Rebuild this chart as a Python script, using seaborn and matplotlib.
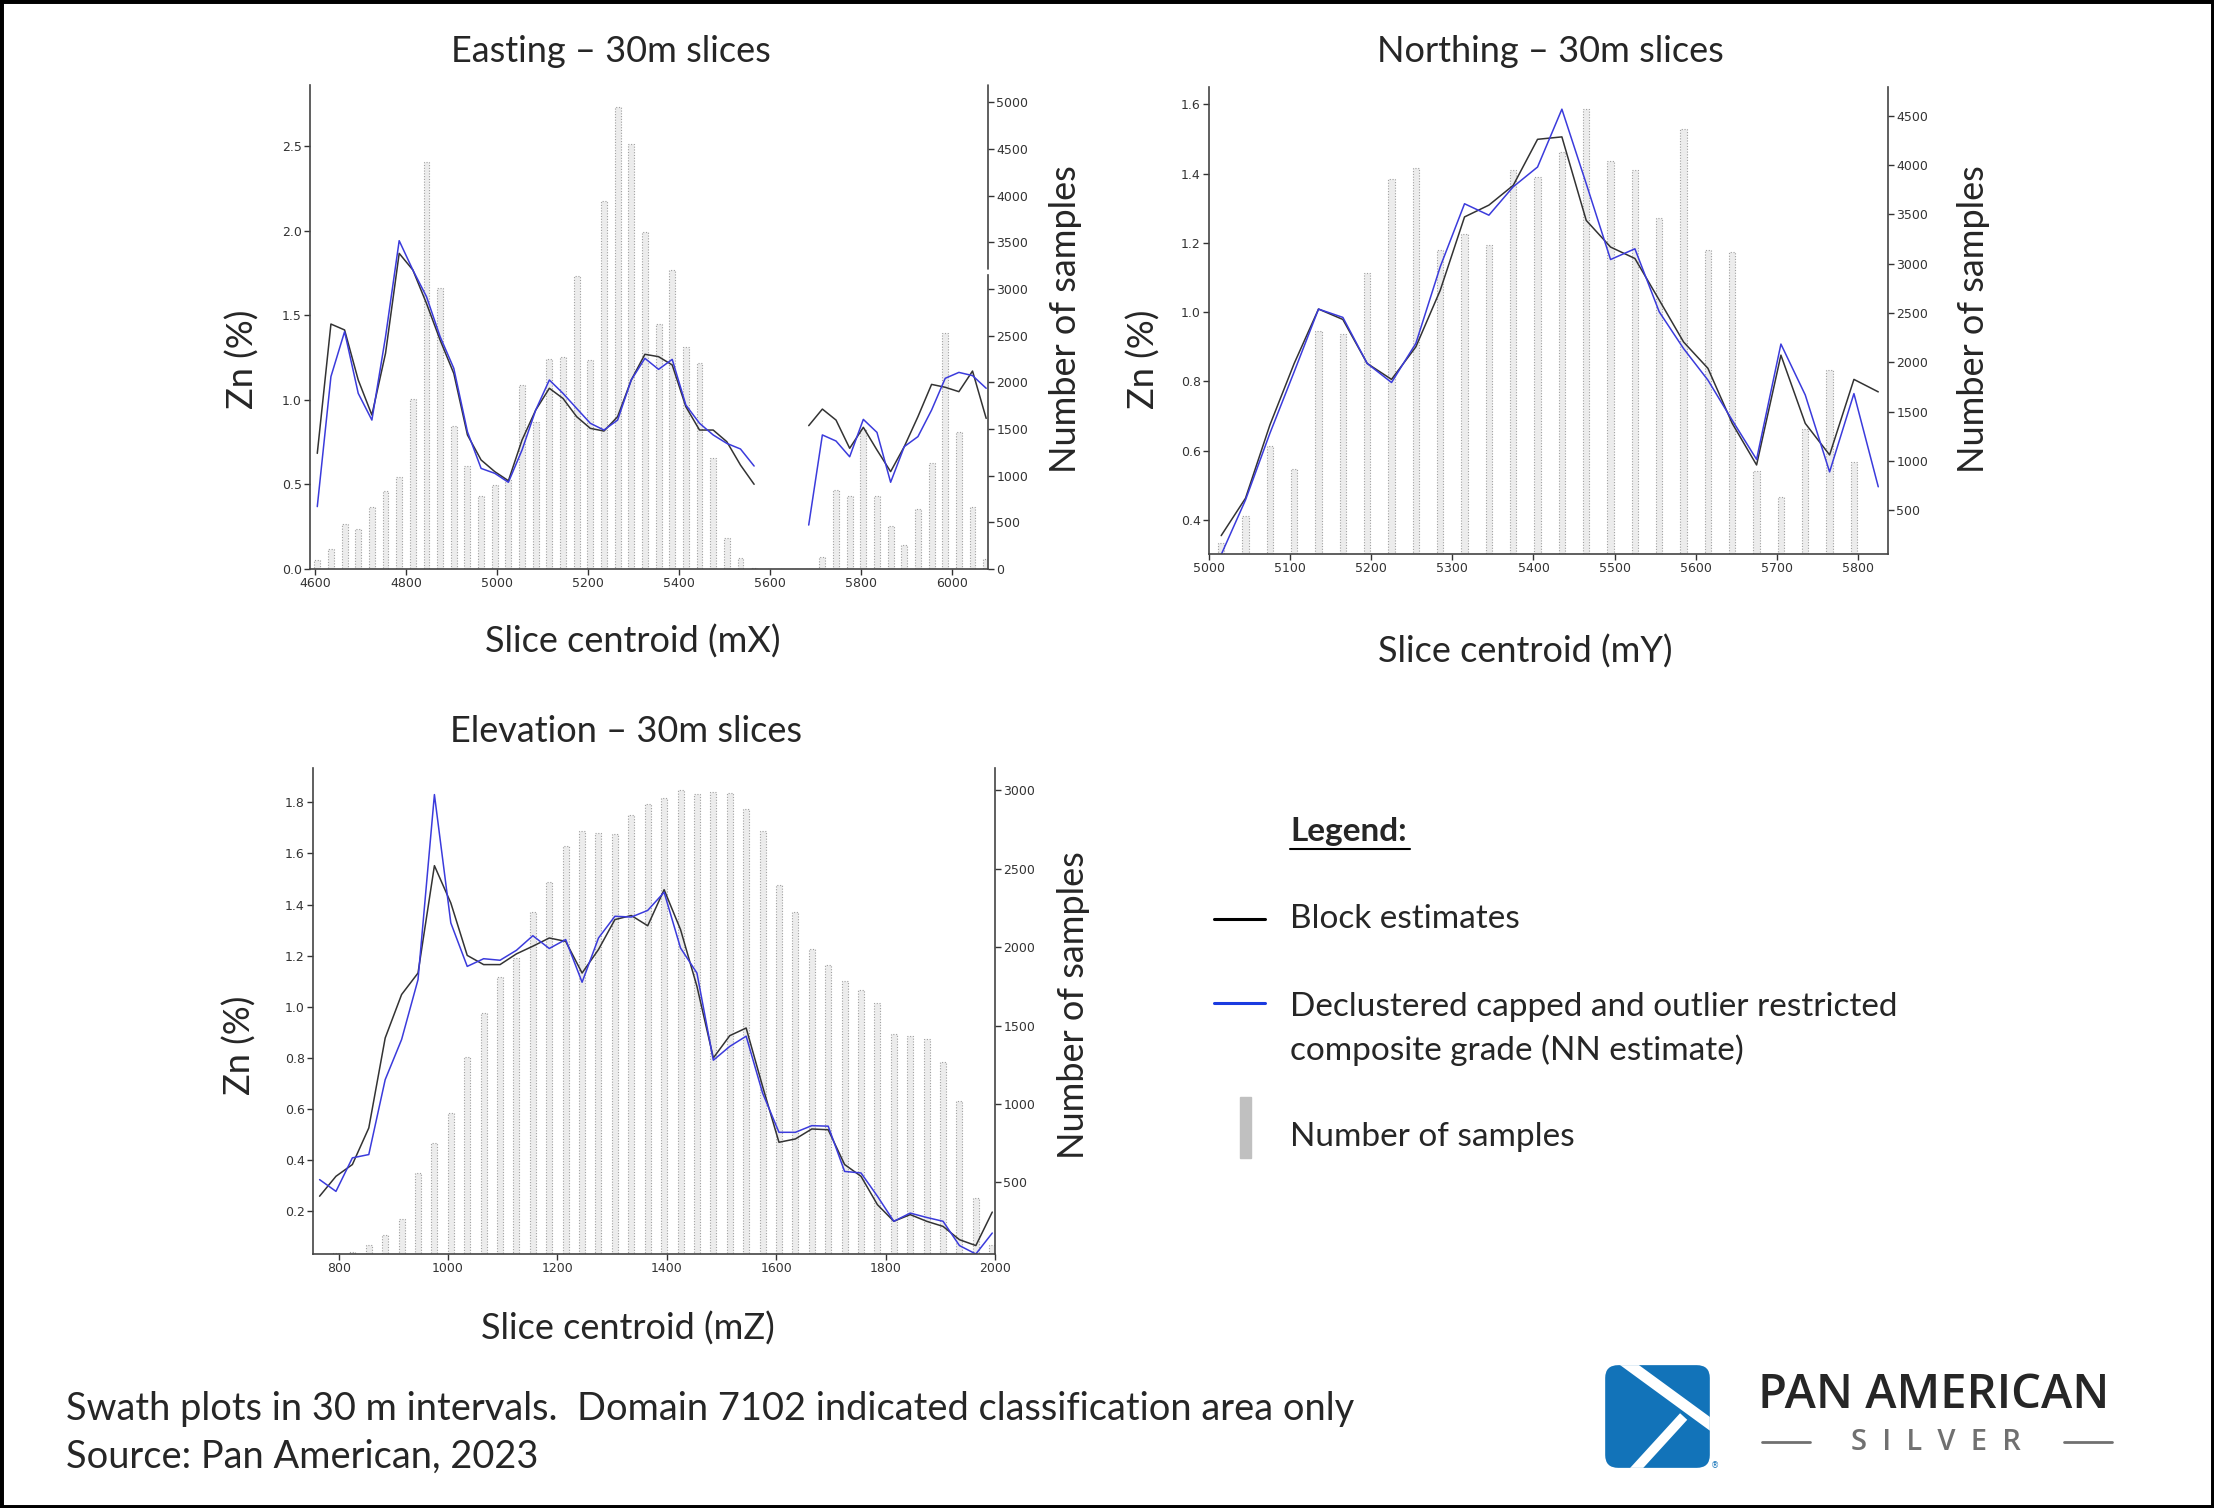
"""
Swath plots (Zn %) for Domain 7102 - Easting, Northing and Elevation, 30 m slices.
Grade lines on the left axis, sample counts as bars on the right axis.
"""

import numpy as np
import pandas as pd
import matplotlib
matplotlib.use("Agg")
import matplotlib.pyplot as plt
from matplotlib.patches import Rectangle, FancyBboxPatch
from matplotlib.lines import Line2D
import seaborn as sns

nan = np.nan

# ---- Easting slices ----
east_x = np.arange(4605, 6076, 30)
east_count = [100, 214, 482, 429, 661, 839, 982, 1821, 4361, 3010,
              1532, 1103, 782, 903, 950, 1971, 1578, 2253, 2275, 3143,
              2236, 3946, 4950, 4553, 3614, 2621, 3204, 2382, 2207, 1193,
              329, 114, 10, 0, 0, 0, 0, 125, 846, 782,
              1500, 782, 461, 257, 643, 1139, 2525, 1464, 668, 104]
east_block = [0.684, 1.449, 1.414, 1.118, 0.911, 1.276, 1.867, 1.769, 1.571, 1.354,
              1.157, 0.793, 0.645, 0.576, 0.522, 0.763, 0.940, 1.069, 1.009, 0.901,
              0.832, 0.816, 0.901, 1.118, 1.270, 1.256, 1.207, 0.960, 0.822, 0.822,
              0.753, 0.615, 0.501, nan, nan, nan, 0.848, 0.946, 0.881, 0.714,
              0.838, 0.704, 0.576, 0.724, 0.901, 1.092, 1.075, 1.049, 1.171, 0.891]
east_nn = [0.369, 1.138, 1.404, 1.039, 0.881, 1.374, 1.942, 1.769, 1.611, 1.374,
           1.187, 0.812, 0.595, 0.566, 0.513, 0.704, 0.940, 1.118, 1.039, 0.950,
           0.862, 0.822, 0.881, 1.118, 1.246, 1.181, 1.240, 0.970, 0.862, 0.793,
           0.743, 0.710, 0.609, nan, nan, nan, 0.260, 0.793, 0.757, 0.664,
           0.885, 0.808, 0.513, 0.724, 0.783, 0.940, 1.128, 1.163, 1.144, 1.069]

# ---- Northing slices ----
north_x = np.arange(5015, 5826, 30)
north_count = [162, 443, 1153, 916, 2319, 2292, 2911, 3858, 3973, 3137,
               3300, 3188, 3949, 3881, 4135, 4574, 4040, 3956, 3465, 4371,
               3137, 3120, 900, 635, 1322, 1920, 990, 0]
north_block = [0.355, 0.463, 0.674, 0.852, 1.009, 0.979, 0.852, 0.806, 0.900, 1.063,
               1.275, 1.309, 1.366, 1.499, 1.506, 1.265, 1.188, 1.155, 1.035, 0.914,
               0.838, 0.679, 0.559, 0.876, 0.679, 0.588, 0.806, 0.770]
north_nn = [0.300, 0.458, 0.650, 0.828, 1.009, 0.985, 0.852, 0.797, 0.910, 1.131,
            1.313, 1.280, 1.362, 1.419, 1.586, 1.371, 1.152, 1.183, 1.001, 0.895,
            0.804, 0.688, 0.575, 0.908, 0.761, 0.539, 0.765, 0.496]

# ---- Elevation slices ----
elev_x = np.arange(765, 1996, 30)
elev_count = [0, 50, 56, 98, 162, 268, 560, 751, 942, 1299,
              1580, 1810, 1931, 2222, 2413, 2647, 2738, 2728, 2719, 2841,
              2913, 2951, 3000, 2974, 2989, 2983, 2883, 2743, 2398, 2222,
              1990, 1888, 1786, 1729, 1642, 1448, 1435, 1414, 1270, 1017,
              400, 102]
elev_block = [0.259, 0.337, 0.383, 0.526, 0.878, 1.048, 1.132, 1.552, 1.406, 1.201,
              1.165, 1.165, 1.207, 1.237, 1.269, 1.256, 1.132, 1.224, 1.341, 1.357,
              1.317, 1.458, 1.302, 1.080, 0.800, 0.887, 0.917, 0.689, 0.470, 0.483,
              0.522, 0.519, 0.383, 0.337, 0.226, 0.161, 0.187, 0.161, 0.141, 0.089,
              0.066, 0.197]
elev_nn = [0.324, 0.278, 0.409, 0.422, 0.715, 0.872, 1.106, 1.830, 1.328, 1.158,
           1.188, 1.182, 1.221, 1.278, 1.228, 1.263, 1.096, 1.269, 1.354, 1.351,
           1.377, 1.448, 1.230, 1.132, 0.791, 0.845, 0.885, 0.663, 0.509, 0.509,
           0.535, 0.533, 0.356, 0.350, 0.259, 0.161, 0.193, 0.176, 0.161, 0.066,
           0.033, 0.115]

W, H = 2214, 1508
TXT = "Lato"
BLOCK_C = "#333333"
NN_C = "#3b3bdc"
SPINE_C = "#444444"


def box(l, t, r, b):
    """Pixel box (left, top, right, bottom) -> figure fraction rect."""
    return [l / W, 1 - b / H, (r - l) / W, (b - t) / H]


def ftext(px, py, s, **kw):
    kw.setdefault("family", TXT)
    kw.setdefault("fontsize", 26)
    kw.setdefault("ha", "center")
    kw.setdefault("va", "center")
    fig.text(px / W, 1 - py / H, s, **kw)


def swath(rect, x, block, nn, count, bar_w, xlim, xticks, ylim, yticks, ylim2, yticks2):
    ax = fig.add_axes(rect)
    ax2 = ax.twinx()
    ax2.bar(x, count, width=bar_w, color="#ececec", edgecolor="#a0a0a0",
            linestyle=(0, (1, 1.5)), linewidth=0.8)
    ax.set_zorder(ax2.get_zorder() + 1)
    ax.patch.set_visible(False)

    for vals, col in [(block, BLOCK_C), (nn, NN_C)]:
        df = pd.DataFrame({"x": x, "y": vals})
        df["seg"] = df["y"].isna().cumsum()
        df = df.dropna()
        sns.lineplot(data=df, x="x", y="y", units="seg", estimator=None,
                     color=col, linewidth=1.1, ax=ax, legend=False)

    ax.set_xlim(*xlim)
    ax.set_ylim(*ylim)
    ax2.set_ylim(*ylim2)
    ax.set_xticks(xticks)
    ax.set_yticks(yticks)
    ax.set_yticklabels([f"{v:.1f}" for v in yticks])
    ax2.set_yticks(yticks2)
    ax.set_xlabel("")
    ax.set_ylabel("")

    for s in ["top", "right"]:
        ax.spines[s].set_visible(False)
    for s in ["top", "left", "bottom"]:
        ax2.spines[s].set_visible(False)
    for a in (ax, ax2):
        for sp in a.spines.values():
            sp.set_color(SPINE_C)
            sp.set_linewidth(1.2)
        a.tick_params(direction="out", length=4, width=1, colors="#333333",
                      labelsize=9, pad=2)
    return ax, ax2


fig = plt.figure(figsize=(W / 100, H / 100), dpi=100)
sns.set_style("ticks")
plt.rcParams["font.family"] = ["DejaVu Sans"]

# Easting
ax, ax2 = swath(box(310, 85, 988, 569), east_x, east_block, east_nn, east_count, 13,
                (4589, 6079), range(4600, 6001, 200), (0, 2.863), np.arange(0, 2.51, 0.5),
                (0, 5186), range(0, 5001, 500))
ax2.spines["right"].set_bounds(0, 3150)
ax2.plot([1, 1], [3210, 5186], transform=ax2.get_yaxis_transform(), color=SPINE_C,
         lw=1.2, clip_on=False)

# Northing
swath(box(1209, 87, 1888, 554), north_x, north_block, north_nn, north_count, 8,
      (5001, 5837), range(5000, 5801, 100), (0.302, 1.65), np.arange(0.4, 1.61, 0.2),
      (54, 4794), range(500, 4501, 500))

# Elevation
swath(box(313, 768, 995, 1254), elev_x, elev_block, elev_nn, elev_count, 11,
      (753, 2000), range(800, 2001, 200), (0.033, 1.934), np.arange(0.2, 1.81, 0.2),
      (43, 3142), range(500, 3001, 500))

# titles and axis labels
ftext(611, 52, "Easting – 30m slices")
ftext(1550, 52, "Northing – 30m slices")
ftext(626, 731, "Elevation – 30m slices")
ftext(633, 642, "Slice centroid (mX)")
ftext(1525, 652, "Slice centroid (mY)")
ftext(628, 1329, "Slice centroid (mZ)")
for px, py in [(243, 359), (1144, 359), (240, 1045)]:
    ftext(px, py, "Zn (%)", rotation=90)
for px, py in [(1066, 319), (1974, 319), (1073, 1005)]:
    ftext(px, py, "Number of samples", rotation=90)

# legend block
LG = 24
ftext(1290, 832, "Legend:", ha="left", fontweight="bold", fontsize=LG)
fig.add_artist(Line2D([1290 / W, 1410 / W], [1 - 849 / H, 1 - 849 / H], color="black", lw=1.5))
fig.add_artist(Line2D([1214 / W, 1265 / W], [1 - 919 / H, 1 - 919 / H], color="black", lw=2.2))
ftext(1290, 919, "Block estimates", ha="left", fontsize=LG)
fig.add_artist(Line2D([1214 / W, 1265 / W], [1 - 1003 / H, 1 - 1003 / H], color="#1a3be0", lw=2.2))
ftext(1290, 1007, "Declustered capped and outlier restricted", ha="left", fontsize=LG)
ftext(1290, 1050, "composite grade (NN estimate)", ha="left", fontsize=LG)
fig.add_artist(Rectangle((1240 / W, 1 - 1158 / H), 11 / W, 61 / H,
                         transform=fig.transFigure, color="#c0c0c0"))
ftext(1290, 1137, "Number of samples", ha="left", fontsize=LG)

# footnote
ftext(66, 1409, "Swath plots in 30 m intervals.  Domain 7102 indicated classification area only",
      ha="left", fontsize=27.4)
ftext(66, 1457, "Source: Pan American, 2023", ha="left", fontsize=27.4)

# logo
lax = fig.add_axes(box(1603, 1363, 1712, 1470))
lax.set_xlim(0, 1)
lax.set_ylim(1, 0)
lax.axis("off")
sq = FancyBboxPatch((0.02, 0.02), 0.96, 0.96, boxstyle="round,pad=0,rounding_size=0.12",
                    fc="#1273b9", ec="none")
lax.add_patch(sq)
for xs, ys, w in [([0.15, 1.05], [-0.05, 0.62], 8), ([0.74, 0.22], [0.50, 1.08], 7)]:
    ln, = lax.plot(xs, ys, color="white", lw=w, solid_capstyle="butt")
    ln.set_clip_path(sq)
ftext(1715, 1466, "®", fontsize=6, family="DejaVu Sans", color="#1273b9")
ftext(1758, 1395, "PAN AMERICAN", ha="left", fontsize=34, fontweight="semibold",
      family="Open Sans")
ftext(1936, 1442, "S  I  L  V  E  R", fontsize=21, color="#707070", fontweight="semibold",
      family="Open Sans")
for x0, x1 in [(1762, 1810), (2064, 2112)]:
    fig.add_artist(Line2D([x0 / W, x1 / W], [1 - 1442 / H, 1 - 1442 / H], color="#707070", lw=2))

# outer frame
fig.add_artist(Rectangle((0, 0), 1, 1, transform=fig.transFigure, fill=False, ec="black", lw=5))

fig.savefig("out.png", dpi=100)
